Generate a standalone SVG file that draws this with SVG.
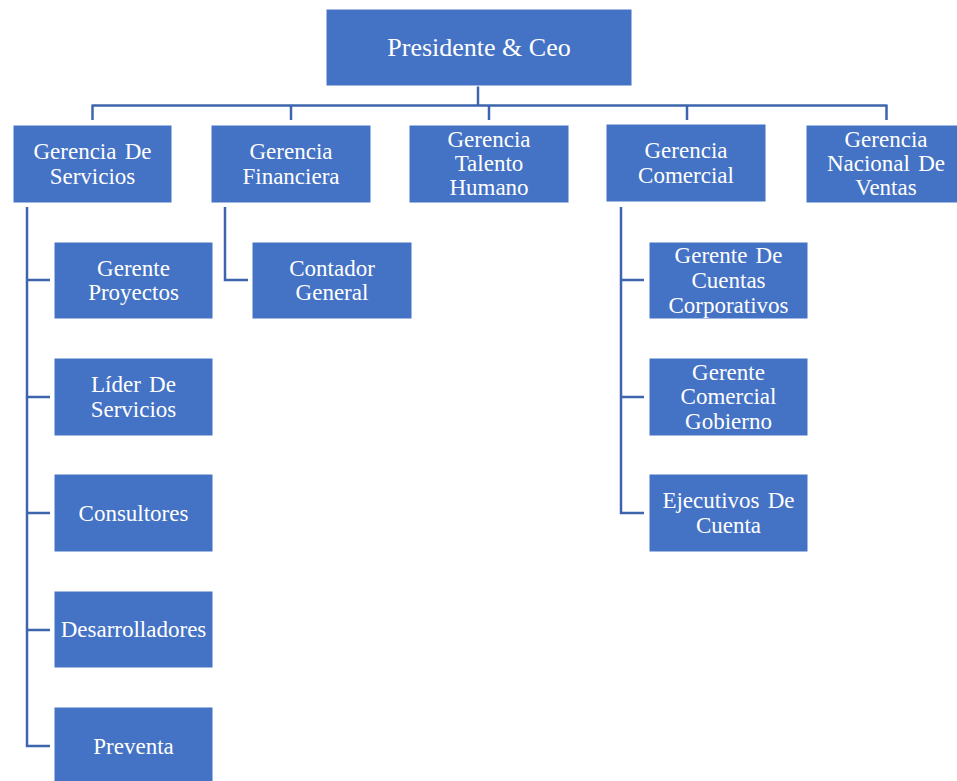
<svg xmlns="http://www.w3.org/2000/svg" width="957" height="781" viewBox="0 0 957 781">
<style>
.b{fill:#4472C4;stroke:#ffffff;stroke-width:1}
.t{font-family:'Liberation Serif','Times New Roman',Tinos,'DejaVu Serif',serif;font-size:23px;fill:#ffffff;text-anchor:middle}
.ws{word-spacing:2.5px}
.c{fill:none;stroke:#3D65AD;stroke-width:2.5}
</style>
<rect width="957" height="781" fill="#ffffff"/>
<g id="connectors">
<path class="c" d="M478,86 V105.5 M92.5,105.5 H886.5 M92.5,104.5 V120 M291,104.5 V120 M489,104.5 V120 M687,104.5 V120 M886.5,104.5 V120"/>
<path class="c" d="M27,207 V746 H50 M27,280 H50 M27,397 H50 M27,513 H50 M27,630 H50"/>
<path class="c" d="M225,207 V280 H248"/>
<path class="c" d="M621,207 V513 H644 M621,280 H644 M621,397 H644"/>
</g>
<g font-family="Liberation Serif, Times New Roman, serif">
<g id="n-presidente"><rect class="b" x="326" y="9" width="306" height="77"/><text class="t" x="479" y="56" style="font-size:26px">Presidente &amp; Ceo</text></g>
<g id="n-servicios"><rect class="b" x="13" y="125" width="159" height="78"/><text class="t ws" x="92.5" y="159">Gerencia De</text><text class="t" x="92.5" y="184">Servicios</text></g>
<g id="n-financiera"><rect class="b" x="211" y="125" width="160" height="78"/><text class="t" x="291" y="159">Gerencia</text><text class="t" x="291" y="184">Financiera</text></g>
<g id="n-talento"><rect class="b" x="409" y="125" width="160" height="78"/><text class="t" x="489" y="147">Gerencia</text><text class="t" x="489" y="171">Talento</text><text class="t" x="489" y="195">Humano</text></g>
<g id="n-comercial"><rect class="b" x="606" y="124" width="160" height="78"/><text class="t" x="686" y="158">Gerencia</text><text class="t" x="686" y="183">Comercial</text></g>
<g id="n-ventas"><rect class="b" x="806" y="125" width="160" height="78"/><text class="t" x="886" y="147">Gerencia</text><text class="t ws" x="886" y="171">Nacional De</text><text class="t" x="886" y="195">Ventas</text></g>
<g id="n-proyectos"><rect class="b" x="54" y="242" width="159" height="77"/><text class="t" x="133.5" y="276">Gerente</text><text class="t" x="133.5" y="300">Proyectos</text></g>
<g id="n-lider"><rect class="b" x="54" y="358" width="159" height="78"/><text class="t ws" x="133.5" y="392">Líder De</text><text class="t" x="133.5" y="417">Servicios</text></g>
<g id="n-consultores"><rect class="b" x="54" y="474" width="159" height="78"/><text class="t" x="133.5" y="521">Consultores</text></g>
<g id="n-desarrolladores"><rect class="b" x="54" y="591" width="159" height="77"/><text class="t" x="133.5" y="637">Desarrolladores</text></g>
<g id="n-preventa"><rect class="b" x="54" y="707" width="159" height="78"/><text class="t" x="133.5" y="754">Preventa</text></g>
<g id="n-contador"><rect class="b" x="252" y="242" width="160" height="77"/><text class="t" x="332" y="276">Contador</text><text class="t" x="332" y="300">General</text></g>
<g id="n-cuentas"><rect class="b" x="649" y="242" width="159" height="77"/><text class="t ws" x="728.5" y="263">Gerente De</text><text class="t" x="728.5" y="288">Cuentas</text><text class="t" x="728.5" y="313">Corporativos</text></g>
<g id="n-gobierno"><rect class="b" x="649" y="358" width="159" height="78"/><text class="t" x="728.5" y="380">Gerente</text><text class="t" x="728.5" y="404">Comercial</text><text class="t" x="728.5" y="429">Gobierno</text></g>
<g id="n-ejecutivos"><rect class="b" x="649" y="474" width="159" height="78"/><text class="t ws" x="728.5" y="508">Ejecutivos De</text><text class="t" x="728.5" y="533">Cuenta</text></g>
</g>
</svg>
